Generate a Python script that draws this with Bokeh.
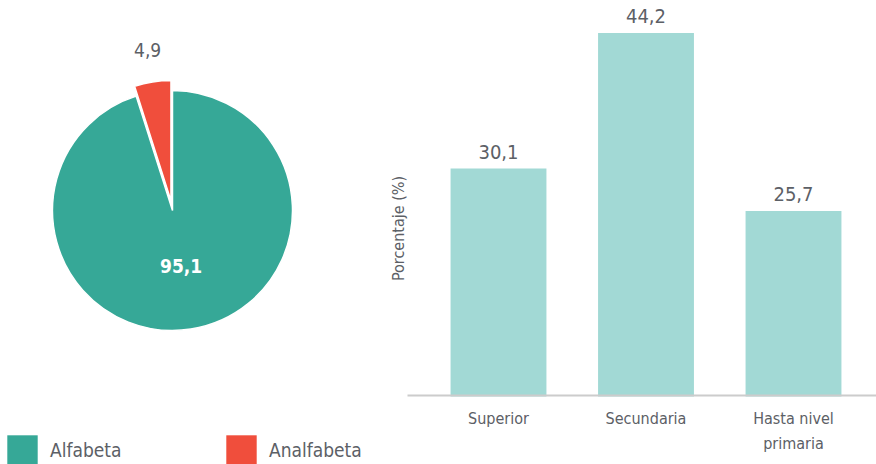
import numpy as np
from bokeh.plotting import figure
from bokeh.models import Range1d, Legend, LegendItem
from bokeh.core.properties import value
from bokeh.embed import file_html
from bokeh.resources import INLINE

FONT = "'Liberation Sans Narrow', 'DejaVu Sans Condensed', 'Roboto', sans-serif"
GRAY = "#5c6066"

# ---- data ----
pie_labels = ["Alfabeta", "Analfabeta"]
pie_values = [95.1, 4.9]
pie_colors = ["#36a897", "#f04e3c"]
pie_explode = [0, 10]

bar_categories = ["Superior", "Secundaria", "Hasta nivel\nprimaria"]
bar_values = [30.1, 44.2, 25.7]
bar_color = "#a2d9d5"
y_axis_title = "Porcentaje (%)"


def fmt(v):
    return f"{v:.1f}".replace(".", ",")


W, H = 876, 464

# layout constants (pixels)
step_px = 147.5          # distance between bar centres
first_center_px = 498    # x of first bar centre
px_per_unit = 9.62       # vertical scale of bars
baseline_px = 396        # y (from top) of bar baseline
baseline_val = 6.41      # value at bar baseline
axis_left_px = 407

bx_start = -first_center_px / step_px
bx_end = (W - first_center_px) / step_px
by_start = baseline_val - (H - baseline_px) / px_per_unit
by_end = baseline_val + baseline_px / px_per_unit

p = figure(width=W, height=H, x_range=Range1d(0, W), y_range=Range1d(0, H),
           output_backend="svg", toolbar_location=None,
           x_axis_location=None, y_axis_location=None, min_border=0)
p.outline_line_color = None
p.grid.visible = False
p.extra_x_ranges = {"bars": Range1d(bx_start, bx_end)}
p.extra_y_ranges = {"bars": Range1d(by_start, by_end)}

# ---- pie ----
cx, cy, R = 172, H - 210, 120
total = sum(pie_values)
renderers = {}
start = np.pi / 2
for i in [1, 0]:
    span = 2 * np.pi * pie_values[i] / total
    end = start + span
    mid = (start + end) / 2
    off = pie_explode[i]
    x0 = cx + off * np.cos(mid)
    y0 = cy + off * np.sin(mid)
    r = p.wedge(x=[x0], y=[y0], radius=R, start_angle=start, end_angle=end,
                fill_color=pie_colors[i], line_color="white", line_width=1.5)
    renderers[i] = r
    if i == 1:
        lx, ly, col, st = cx + 1.35 * R * np.cos(mid), cy + 1.35 * R * np.sin(mid), GRAY, "normal"
    else:
        lx, ly, col, st = cx + 0.47 * R * np.cos(mid), cy + 0.47 * R * np.sin(mid), "white", "bold"
    p.text(x=[lx], y=[ly], text=[fmt(pie_values[i])], text_align="center",
           text_baseline="middle", text_color=col, text_font=value(FONT),
           text_font_size="19px", text_font_style=st)
    start = end

# legend swatches (no white outline)
sw = {i: p.rect(x=[0], y=[0], width=0, height=0, fill_color=pie_colors[i],
                line_color=None, visible=False) for i in range(len(pie_labels))}
for i in sw:
    sw[i].visible = True
    sw[i].glyph.fill_alpha = 1.0

legend = Legend(items=[LegendItem(label=pie_labels[i], renderers=[sw[i]]) for i in range(len(pie_labels))],
                orientation="horizontal", location=(3, -5),
                glyph_width=38, glyph_height=38, label_width=160, label_standoff=9,
                spacing=12, padding=0, margin=0, border_line_color=None,
                background_fill_alpha=0, label_text_font=FONT,
                label_text_font_size="19px", label_text_color=GRAY)
p.add_layout(legend)

# ---- bars ----
xs = list(range(len(bar_categories)))
p.vbar(x=xs, top=bar_values, bottom=baseline_val, width=0.65, fill_color=bar_color,
       line_color=None, x_range_name="bars", y_range_name="bars")
# baseline (axis line)
p.segment(x0=[(axis_left_px - first_center_px) / step_px], x1=[bx_end],
          y0=[baseline_val + 1 / px_per_unit], y1=[baseline_val + 1 / px_per_unit],
          line_color="#cccccc", line_width=2, x_range_name="bars", y_range_name="bars")
# value labels
p.text(x=xs, y=bar_values, text=[fmt(v) for v in bar_values], text_align="center",
       text_baseline="bottom", y_offset=-10, text_color=GRAY, text_font=value(FONT),
       text_font_size="20px", x_range_name="bars", y_range_name="bars")
# category labels
p.text(x=xs, y=[baseline_val] * len(xs), text=bar_categories, text_align="center",
       text_baseline="top", y_offset=12, text_color=GRAY, text_font=value(FONT),
       text_font_size="16px", text_line_height=1.35,
       x_range_name="bars", y_range_name="bars")
# y axis title
p.text(x=[398], y=[H - 228], text=[y_axis_title], angle=np.pi / 2, text_align="center",
       text_baseline="middle", text_color=GRAY, text_font=value(FONT),
       text_font_size="16px")

open("out.html", "w").write(file_html(p, INLINE))
